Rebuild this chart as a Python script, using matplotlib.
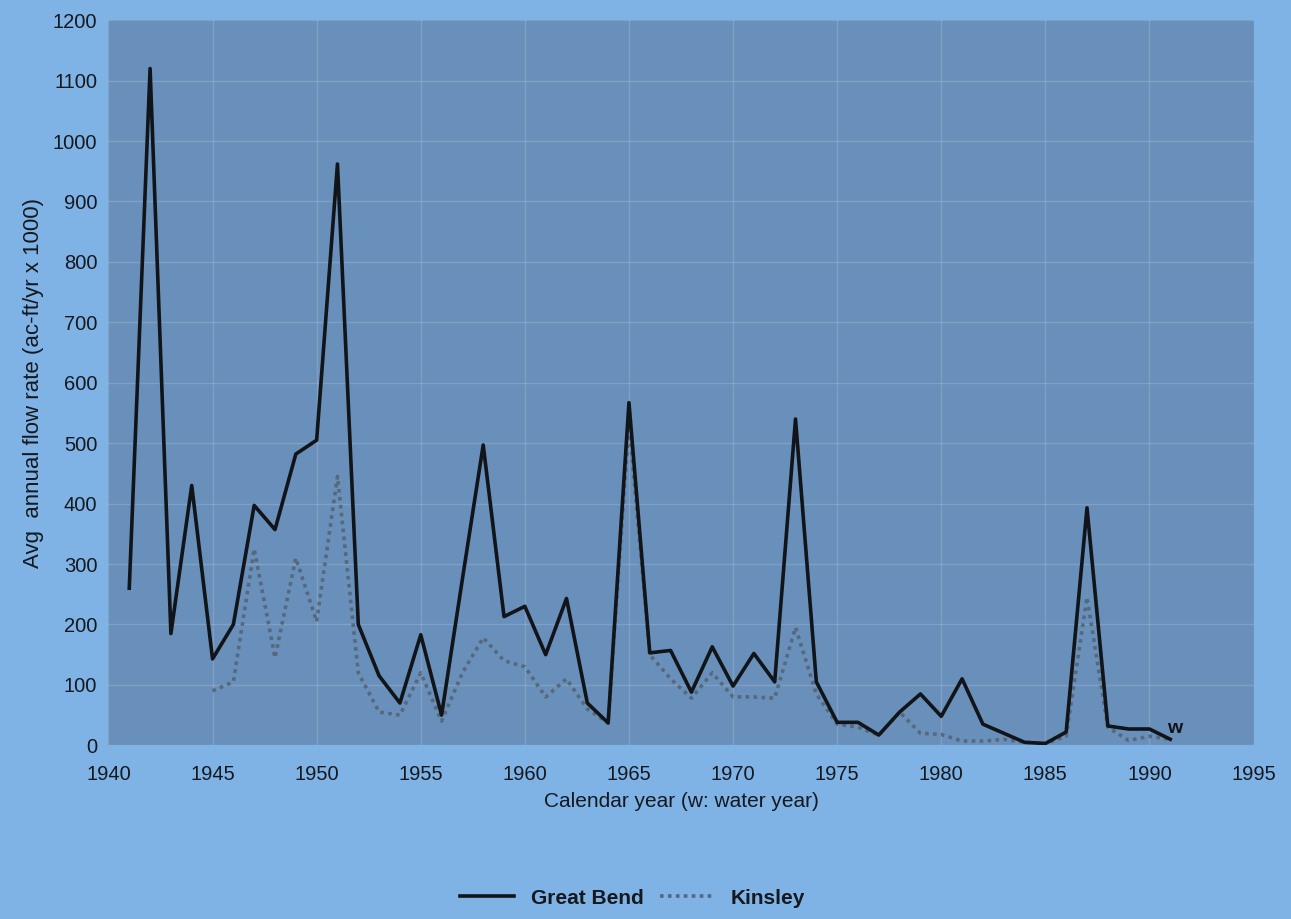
import matplotlib
matplotlib.use("Agg")
import matplotlib.pyplot as plt

years_gb = list(range(1941, 1992))
great_bend = [260, 1120, 185, 430, 143, 200, 397, 357, 482, 505,
              962, 200, 115, 70, 183, 50, 275, 497, 213, 230,
              150, 243, 70, 37, 567, 153, 157, 88, 163, 98,
              152, 105, 540, 105, 38, 38, 17, 55, 85, 48,
              110, 35, 20, 5, 3, 22, 393, 32, 27, 27, 10]

years_k = list(range(1945, 1992))
kinsley = [90, 105, 325, 145, 310, 205, 445, 120, 55, 50,
           120, 40, 120, 178, 140, 130, 80, 110, 60, 37,
           535, 150, 110, 78, 120, 80, 80, 78, 195, 85,
           35, 30, 17, 55, 20, 18, 7, 7, 10, 5,
           3, 15, 245, 30, 8, 15, 10]

x_ticks = list(range(1940, 1996, 5))
y_ticks = list(range(0, 1201, 100))

plt.rcParams['font.family'] = ['Liberation Sans', 'DejaVu Sans']
txt_color = '#15191f'

fig = plt.figure(figsize=(12.91, 9.19), dpi=100)
fig.patch.set_facecolor('#7fb3e5')
ax = fig.add_axes([0.084, 0.189, 0.887, 0.789])
ax.set_facecolor('#6990ba')

ax.plot(years_gb, great_bend, color='#111418', lw=2.6, label='Great Bend', zorder=3)
ax.plot(years_k, kinsley, color='#56687c', lw=2.6, linestyle=(0, (1, 1.2)), label='Kinsley', zorder=2)

ax.set_xlim(1940, 1995)
ax.set_ylim(0, 1200)
ax.set_xticks(x_ticks)
ax.set_yticks(y_ticks)
ax.tick_params(length=0, labelsize=14.5, colors=txt_color)
ax.tick_params(axis='x', pad=14)
ax.tick_params(axis='y', pad=8)
for s in ax.spines.values():
    s.set_visible(False)
ax.grid(True, color='white', alpha=0.15, lw=1)
ax.set_axisbelow(True)

ax.set_xlabel('Calendar year (w: water year)', fontsize=15, color=txt_color, labelpad=6)
ax.set_ylabel('Avg  annual flow rate (ac-ft/yr x 1000)', fontsize=16, color=txt_color, labelpad=6)

ax.text(1991.2, 14, 'w', fontsize=14, color='#111418', ha='center', va='bottom', fontweight='bold')

leg = fig.legend(loc='lower center', bbox_to_anchor=(0.49, -0.008), ncol=2, frameon=False,
                 prop={'size': 15, 'weight': 'bold'}, handlelength=2.6, columnspacing=0.8,
                 handletextpad=0.8)
for t in leg.get_texts():
    t.set_color(txt_color)

fig.savefig('out.png', dpi=100, facecolor=fig.get_facecolor())
